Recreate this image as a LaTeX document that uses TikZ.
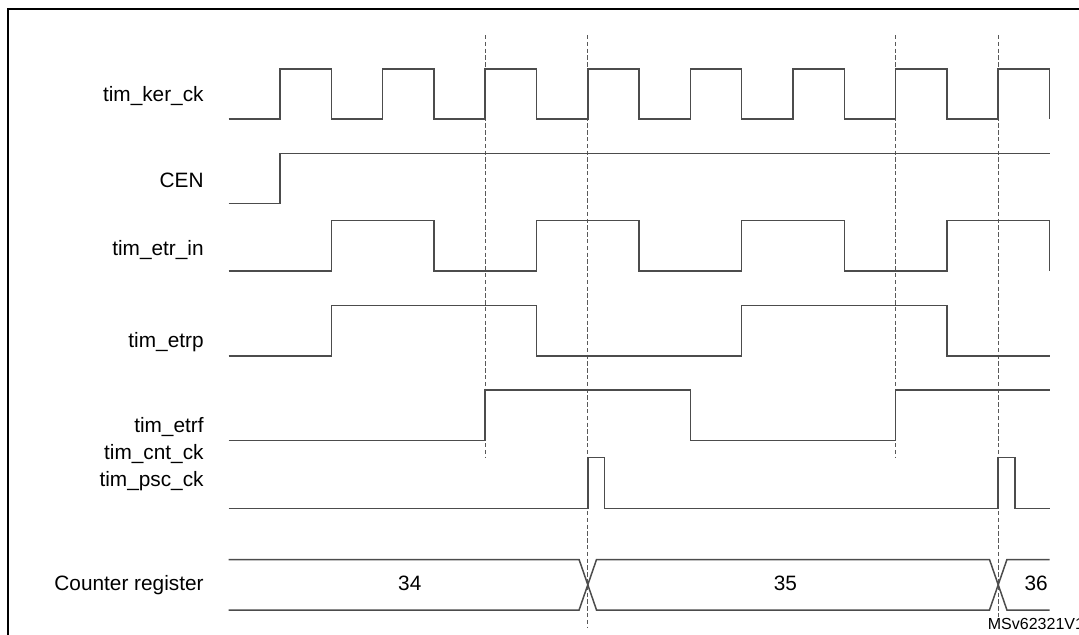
\documentclass[tikz,border=0pt]{standalone}
\usepackage{fontspec}
\setmainfont{Liberation Sans}
\usetikzlibrary{positioning}

\tikzset{
	wave/.style={draw=black!70, line width=0.75pt, line join=miter},
	marker/.style={draw=black!65, line width=0.45pt, dash pattern=on 2.2pt off 1.2pt},
	siglabel/.style={anchor=base east, inner sep=0pt, align=right,
		font=\fontsize{10.4}{13.2}\selectfont},
	busvalue/.style={anchor=base, inner sep=0pt, font=\fontsize{10.4}{13.2}\selectfont},
}

\begin{document}
\begin{tikzpicture}[x=0.5pt, y=-0.5pt]
	\useasboundingbox (0,0) rectangle (1079,634);
	\draw[line width=1pt] (8,700) -- (8,9) -- (1150,9);
	% signal names
	\node[siglabel] (kerck) at (204,101.7) {tim\_ker\_ck};
	\node[siglabel] (cen) at (204,187.3) {CEN};
	\node[siglabel] (etrin) at (204,255) {tim\_etr\_in};
	\node[siglabel] (etrp) at (204,347.7) {tim\_etrp};
	\node[siglabel] (etrf) at (204,432.3) {tim\_etrf};
	\node[siglabel] (cntck) at (204,486) {tim\_cnt\_ck\\tim\_psc\_ck};
	\node[siglabel] (cntreg) at (204,590) {Counter register};
	\node[anchor=west, inner sep=0pt, font=\fontsize{8}{9}\selectfont] (ref) at (987.5,624) {MSv62321V1};
	% one unit = half a tim_ker_ck period
	\begin{scope}[x=25.65pt, xshift=114.35pt]
		\foreach \k in {5,13} \draw[marker] (\k,35) -- (\k,458);
		\foreach \k in {7,15} \draw[marker] (\k,35) -- (\k,628);
		\draw[wave] (0,119) \foreach \k in {1,3,...,15} {-- (\k,119) -- (\k,69) -- (\k+1,69) -- (\k+1,119)};
		\draw[wave] (0,203.5) -- (1,203.5) -- (1,153.3) -- (16,153.3);
		\draw[wave] (0,271) \foreach \k in {2,6,10,14} {-- (\k,271) -- (\k,220.5) -- (\k+2,220.5) -- (\k+2,271)};
		\draw[wave] (0,356) \foreach \k in {2,10} {-- (\k,356) -- (\k,305.5) -- (\k+4,305.5) -- (\k+4,356)} -- (16,356);
		\draw[wave] (0,440.5) -- (5,440.5) -- (5,390) -- (9,390) -- (9,440.5) -- (13,440.5) -- (13,390) -- (16,390);
		\draw[wave] (0,508.3) \foreach \k in {7,15} {-- (\k,508.3) -- (\k,457.5) -- (\k+0.33,457.5) -- (\k+0.33,508.3)} -- (16,508.3);
		% counter bus
		\draw[wave] (0,559.5) -- (6.83,559.5) -- (7.17,610) -- (14.83,610) -- (15.17,559.5) -- (16,559.5);
		\draw[wave] (0,610) -- (6.83,610) -- (7.17,559.5) -- (14.83,559.5) -- (15.17,610) -- (16,610);
		\node[busvalue] (v34) at (3.53,590) {34};
		\node[busvalue] (v35) at (10.85,590) {35};
		\node[busvalue] (v36) at (15.74,590) {36};
	\end{scope}
\end{tikzpicture}
\end{document}
